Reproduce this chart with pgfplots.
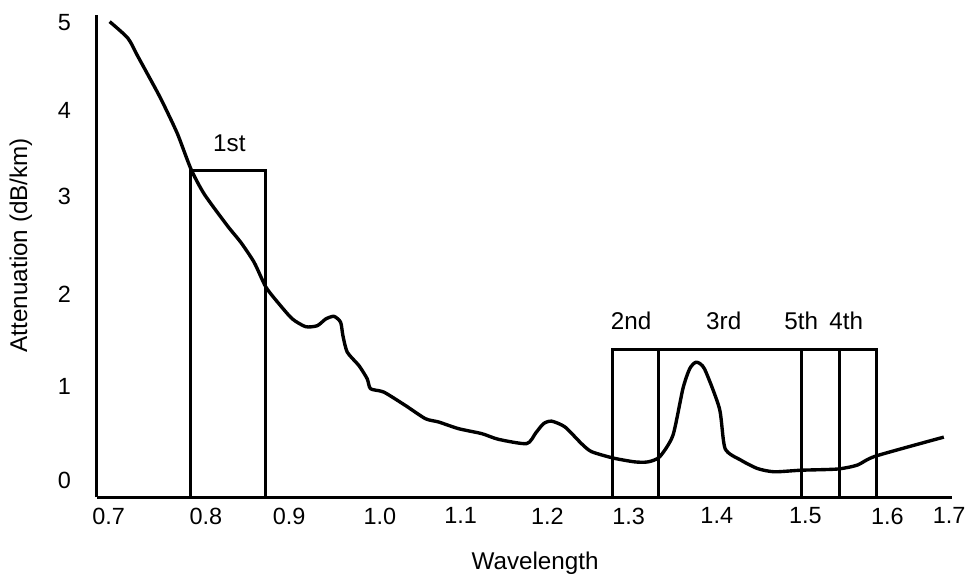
\documentclass[border=0pt]{standalone}
\usepackage{pgfplots}
\pgfplotsset{compat=1.18}
\usepackage{fontspec}
\setmainfont{Liberation Sans}

\begin{document}
\begin{tikzpicture}
\begin{axis}[
  scale only axis, width=429bp, height=242bp,
  xmin=0.6712, xmax=1.6759, ymin=-0.185, ymax=5.076,
  axis lines*=left,
  axis line style={line width=1.7pt},
  major tick length=0pt,
  no markers,
  xtick={0.6852,0.7994,0.8972,1.0037,1.0986,1.2005,1.2959,1.3995,1.5036,1.5998,1.6724},
  xticklabels={0.7,0.8,0.9,1.0,1.1,1.2,1.3,1.4,1.5,1.6,1.7},
  ytick={0,1.027,2.025,3.101,4.033,4.995},
  yticklabels={0,1,2,3,4,5},
  ticklabel style={font=\fontsize{11.8}{13}\selectfont},
  xticklabel style={yshift=-1.6pt},
  yticklabel style={xshift=-9.5pt},
  xlabel={Wavelength},
  ylabel={Attenuation (dB/km)},
  label style={font=\fontsize{12.2}{14}\selectfont},
  xlabel style={at={(axis description cs:0.5125,-0.136)},anchor=center},
  ylabel style={at={(axis description cs:-0.0886,0.523)},anchor=center},
  clip=false,
]
% fibre attenuation spectrum
\addplot[line width=1.7pt, smooth, tension=0.4, line join=round] coordinates {
(0.6864,5.003) (0.7078,4.823) (0.7196,4.623) (0.7430,4.225) (0.7528,4.043)
(0.7664,3.772) (0.7821,3.391) (0.7977,3.120) (0.8249,2.775) (0.8406,2.595)
(0.8562,2.377) (0.8699,2.109) (0.8855,1.924) (0.9011,1.761) (0.9167,1.677)
(0.9303,1.688) (0.9402,1.761) (0.9499,1.790) (0.9577,1.725) (0.9604,1.579)
(0.9655,1.399) (0.9792,1.253) (0.9889,1.109) (0.9929,1.000) (1.0084,0.964)
(1.0338,0.818) (1.0573,0.674) (1.0728,0.638) (1.0963,0.565) (1.1235,0.511)
(1.1431,0.449) (1.1762,0.402) (1.1870,0.520) (1.1960,0.620) (1.2055,0.647)
(1.2212,0.584) (1.2406,0.402) (1.2523,0.315) (1.2778,0.245) (1.3032,0.203)
(1.3187,0.203) (1.3324,0.258) (1.3480,0.492) (1.3597,1.000) (1.3676,1.217)
(1.3753,1.290) (1.3851,1.217) (1.4027,0.783) (1.4093,0.348) (1.4280,0.221)
(1.4475,0.130) (1.4671,0.095) (1.4982,0.112) (1.5412,0.125) (1.5646,0.168)
(1.5861,0.266) (1.6662,0.473)
};
% transmission windows
\addplot[line width=1.5pt] coordinates {(0.7813,-0.185) (0.7813,3.38) (0.8694,3.38) (0.8694,-0.185)};
\addplot[line width=1.5pt] coordinates {(1.2772,-0.185) (1.2772,1.427) (1.5866,1.427) (1.5866,-0.185)};
\addplot[line width=1.5pt] coordinates {(1.3310,-0.185) (1.3310,1.427)};
\addplot[line width=1.5pt] coordinates {(1.4987,-0.185) (1.4987,1.427)};
\addplot[line width=1.5pt] coordinates {(1.5432,-0.185) (1.5432,1.427)};
\begin{scope}[every node/.style={font=\fontsize{12.2}{14}\selectfont}]
\node at (axis cs:0.827,3.677) {1st};
\node at (axis cs:1.2988,1.739) {2nd};
\node at (axis cs:1.4077,1.739) {3rd};
\node at (axis cs:1.4988,1.739) {5th};
\node at (axis cs:1.5516,1.739) {4th};
\end{scope}
\path (axis cs:0.5576,-1.0544) rectangle (axis cs:1.6958,5.2391);
\end{axis}
\end{tikzpicture}
\end{document}
